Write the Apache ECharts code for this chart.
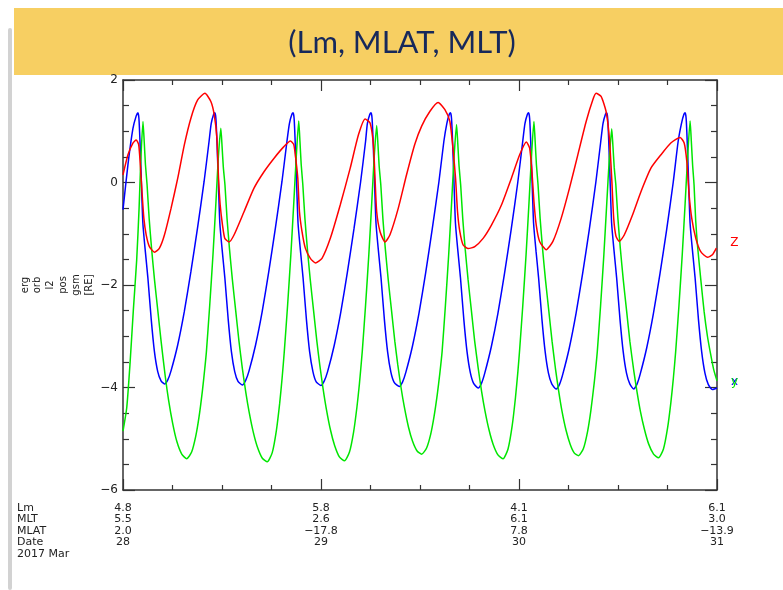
<!DOCTYPE html>
<html><head><meta charset="utf-8">
<script src="https://cdn.jsdelivr.net/npm/echarts@6/dist/echarts.min.js"></script>
<style>html,body{margin:0;padding:0;background:#fff;}#c{width:783px;height:590px;}</style>
</head><body><div id="c"></div>
<script>
// time axis: hours since 2017-03-28 00:00
const dayTicks = [0, 24, 48, 72];
const lmLabels = ['4.8', '5.8', '4.1', '6.1'];
const mltLabels = ['5.5', '2.6', '6.1', '3.0'];
const mlatLabels = ['2.0', '\u221217.8', '7.8', '\u221213.9'];
const dateLabels = ['28', '29', '30', '31'];
const rowNames = ['Lm', 'MLT', 'MLAT', 'Date', '2017 Mar'];
const yTickLabels = {'2': '2', '0': '0', '-2': '\u22122', '-4': '\u22124', '-6': '\u22126'};

// X component (blue) [hour, Re]
const xGsm = [[0,-0.53],[0.6,0.35],[1.2,1.05],[1.6,1.3],
[1.81,1.36],[1.93,1.25],[2.06,0.8],[2.21,0.1],[2.41,-0.8],[2.71,-1.35],[3.01,-1.85],[3.41,-2.65],[3.81,-3.3],[4.21,-3.69],[4.61,-3.87],[5.03,-3.93],
[5.43,-3.85],[5.83,-3.67],[6.63,-3.17],[7.43,-2.52],[8.23,-1.74],[9.03,-0.89],[9.83,0.02],[10.43,0.8],[10.69,1.15],[10.99,1.33],
[11.14,1.36],[11.26,1.25],[11.39,0.8],[11.54,0.1],[11.74,-0.8],[12.04,-1.35],[12.34,-1.85],[12.74,-2.65],[13.14,-3.3],[13.54,-3.69],[13.94,-3.88],[14.47,-3.95],
[14.87,-3.86],[15.27,-3.68],[16.07,-3.17],[16.87,-2.52],[17.67,-1.74],[18.47,-0.89],[19.27,0.02],[19.87,0.8],[20.17,1.15],[20.47,1.33],
[20.62,1.36],[20.74,1.25],[20.87,0.8],[21.02,0.1],[21.22,-0.8],[21.52,-1.35],[21.82,-1.85],[22.22,-2.65],[22.62,-3.3],[23.02,-3.69],[23.42,-3.89],[24.0,-3.96],
[24.4,-3.87],[24.8,-3.69],[25.6,-3.18],[26.4,-2.53],[27.2,-1.75],[28.0,-0.9],[28.8,0.01],[29.4,0.8],[29.62,1.15],[29.92,1.33],
[30.07,1.36],[30.19,1.25],[30.32,0.8],[30.47,0.1],[30.67,-0.8],[30.97,-1.35],[31.27,-1.85],[31.67,-2.65],[32.07,-3.3],[32.47,-3.7],[32.87,-3.9],[33.49,-3.98],
[33.89,-3.89],[34.29,-3.7],[35.09,-3.19],[35.89,-2.54],[36.69,-1.76],[37.49,-0.9],[38.29,0.01],[38.89,0.8],[39.25,1.15],[39.55,1.33],
[39.70,1.36],[39.82,1.25],[39.95,0.8],[40.10,0.1],[40.30,-0.8],[40.60,-1.35],[40.90,-1.85],[41.30,-2.65],[41.70,-3.3],[42.10,-3.71],[42.50,-3.92],[43.05,-4.01],
[43.45,-3.92],[43.85,-3.72],[44.65,-3.2],[45.45,-2.55],[46.25,-1.77],[47.05,-0.92],[47.85,0.0],[48.45,0.8],[48.72,1.15],[49.02,1.33],
[49.17,1.36],[49.29,1.25],[49.42,0.8],[49.57,0.1],[49.77,-0.8],[50.07,-1.35],[50.37,-1.85],[50.77,-2.65],[51.17,-3.3],[51.57,-3.72],[51.97,-3.93],[52.51,-4.03],
[52.91,-3.94],[53.31,-3.74],[54.11,-3.22],[54.91,-2.56],[55.71,-1.78],[56.51,-0.93],[57.31,0.0],[57.91,0.8],[58.18,1.15],[58.48,1.33],
[58.63,1.36],[58.75,1.25],[58.88,0.8],[59.03,0.1],[59.23,-0.8],[59.53,-1.35],[59.83,-1.85],[60.23,-2.65],[60.63,-3.3],[61.03,-3.72],[61.43,-3.93],[61.89,-4.03],
[62.29,-3.94],[62.69,-3.74],[63.49,-3.22],[64.29,-2.56],[65.09,-1.78],[65.89,-0.93],[66.69,0.0],[67.29,0.8],[67.69,1.15],[67.99,1.33],
[68.14,1.36],[68.26,1.25],[68.39,0.8],[68.54,0.1],[68.74,-0.8],[69.04,-1.35],[69.34,-1.85],[69.74,-2.65],[70.14,-3.3],[70.54,-3.72],[70.94,-3.94],[71.44,-4.04],[72.0,-4.01]];

// Y component (green)
const yGsm = [[0,-4.85],[0.45,-4.4],[0.85,-3.54],[1.25,-2.5],[1.66,-1.51],[1.95,-0.5],[2.15,0.4],
[2.42,1.19],[2.57,0.8],[2.72,0.35],[2.92,-0.05],[3.17,-0.7],[3.47,-1.3],[3.82,-1.9],[4.22,-2.5],[4.62,-3.1],
[5.12,-3.78],[5.52,-4.24],[6.02,-4.70],[6.52,-5.05],[7.12,-5.30],[7.72,-5.39],[8.32,-5.26],[8.82,-4.95],[9.22,-4.57],[9.62,-4.07],[9.92,-3.62],[10.11,-3.3],[10.51,-2.4],[10.91,-1.4],[11.26,-0.4],[11.56,0.5],
[11.86,1.06],[12.01,0.7],[12.16,0.3],[12.36,-0.05],[12.61,-0.7],[12.91,-1.3],[13.26,-1.9],[13.66,-2.5],[14.06,-3.1],
[14.47,-3.63],[14.89,-4.10],[15.29,-4.48],[15.79,-4.87],[16.29,-5.16],[16.89,-5.38],[17.49,-5.45],[18.09,-5.27],[18.59,-4.84],[18.99,-4.31],[19.29,-3.81],[19.55,-3.3],[19.95,-2.4],[20.35,-1.4],[20.7,-0.4],[21.0,0.5],
[21.3,1.2],[21.45,0.8],[21.6,0.35],[21.8,-0.05],[22.05,-0.7],[22.35,-1.3],[22.7,-1.9],[23.1,-2.5],[23.5,-3.1],
[23.85,-3.56],[24.25,-4.02],[24.65,-4.42],[25.15,-4.83],[25.65,-5.13],[26.25,-5.36],[26.85,-5.43],[27.45,-5.26],[27.95,-4.87],[28.35,-4.39],[28.65,-3.94],[29.0,-3.3],[29.4,-2.4],[29.8,-1.4],[30.15,-0.4],[30.45,0.5],
[30.75,1.11],[30.9,0.75],[31.05,0.32],[31.25,-0.05],[31.5,-0.7],[31.8,-1.3],[32.15,-1.9],[32.55,-2.5],[32.95,-3.1],
[33.3,-3.55],[33.7,-4.0],[34.1,-4.38],[34.6,-4.77],[35.1,-5.05],[35.65,-5.24],[36.2,-5.30],[36.8,-5.18],[37.3,-4.91],[37.7,-4.57],[38.1,-4.13],[38.4,-3.73],[38.68,-3.3],[39.08,-2.4],[39.48,-1.4],[39.83,-0.4],[40.13,0.5],
[40.43,1.13],[40.58,0.76],[40.73,0.33],[40.93,-0.05],[41.18,-0.7],[41.48,-1.3],[41.83,-1.9],[42.23,-2.5],[42.63,-3.1],
[43.07,-3.64],[43.47,-4.08],[43.87,-4.45],[44.37,-4.83],[44.87,-5.11],[45.47,-5.32],[46.07,-5.39],[46.67,-5.20],[47.17,-4.75],[47.57,-4.20],[47.87,-3.68],[48.06,-3.3],[48.46,-2.4],[48.86,-1.4],[49.21,-0.4],[49.51,0.5],
[49.81,1.19],[49.96,0.8],[50.11,0.35],[50.31,-0.05],[50.56,-0.7],[50.86,-1.3],[51.21,-1.9],[51.61,-2.5],[52.01,-3.1],
[52.41,-3.62],[52.81,-4.07],[53.21,-4.46],[53.71,-4.84],[54.21,-5.11],[54.71,-5.28],[55.21,-5.33],[55.81,-5.19],[56.31,-4.86],[56.71,-4.45],[57.11,-3.92],[57.31,-3.61],[57.49,-3.3],[57.89,-2.4],[58.29,-1.4],[58.64,-0.4],[58.94,0.45],
[59.24,1.05],[59.39,0.7],[59.54,0.3],[59.74,-0.05],[59.99,-0.7],[60.29,-1.3],[60.64,-1.9],[61.04,-2.5],[61.44,-3.1],
[61.91,-3.67],[62.31,-4.09],[62.71,-4.46],[63.21,-4.82],[63.71,-5.10],[64.31,-5.30],[64.91,-5.37],[65.51,-5.20],[66.01,-4.79],[66.41,-4.29],[66.71,-3.82],[66.99,-3.3],[67.39,-2.4],[67.79,-1.4],[68.14,-0.4],[68.44,0.5],
[68.74,1.2],[68.89,0.8],[69.04,0.35],[69.22,-0.05],[69.42,-0.75],[69.63,-1.22],[70.04,-1.9],[70.44,-2.52],[70.84,-3.0],[71.24,-3.36],[71.6,-3.65],[72.0,-3.87]];

// Z component (red)
const zGsm = [[0,0.15],[0.6,0.54],[1.2,0.77],[1.6,0.83],[1.9,0.74],[2.1,0.34],[2.3,-0.18],[2.53,-0.7],[2.81,-1.02],[3.2,-1.25],[3.82,-1.36],[4.42,-1.28],[5.03,-1.02],[5.83,-0.5],[6.63,0.08],[7.44,0.74],[8.24,1.26],[9.05,1.61],[9.93,1.74],[10.65,1.58],[11.06,1.32],[11.38,0.87],[11.58,0.08],[11.78,-0.44],[12.06,-0.83],[12.34,-1.09],[12.86,-1.16],[13.47,-1.02],[14.67,-0.57],[15.88,-0.11],[17.09,0.21],[18.29,0.47],[19.5,0.70],[20.3,0.81],[20.7,0.74],[20.98,0.41],[21.19,0.08],[21.39,-0.57],[21.7,-0.96],[22.1,-1.28],[22.71,-1.48],[23.32,-1.57],[24.12,-1.48],[25.13,-1.09],[26.33,-0.44],[27.54,0.28],[28.54,0.93],[29.35,1.24],[29.95,1.16],[30.35,0.74],[30.55,0.08],[30.75,-0.57],[31.16,-0.96],[31.76,-1.16],[32.36,-1.02],[33.37,-0.5],[34.37,0.15],[35.38,0.75],[36.2,1.1],[37.21,1.39],[38.2,1.56],[39.02,1.42],[39.62,1.19],[40.03,0.61],[40.31,0.08],[40.55,-0.57],[40.83,-0.96],[41.23,-1.22],[41.84,-1.29],[42.64,-1.25],[43.65,-1.09],[44.66,-0.83],[45.87,-0.44],[47.07,0.08],[48.08,0.54],[48.89,0.79],[49.29,0.67],[49.57,0.21],[49.81,-0.37],[50.09,-0.83],[50.5,-1.15],[51.3,-1.31],[52.11,-1.15],[53.11,-0.70],[54.12,-0.11],[55.13,0.54],[56.14,1.19],[56.94,1.61],[57.34,1.74],[57.95,1.68],[58.55,1.39],[58.95,0.87],[59.24,0.08],[59.48,-0.70],[59.76,-1.05],[60.16,-1.15],[60.77,-1.02],[61.77,-0.63],[62.78,-0.18],[63.99,0.28],[65.2,0.54],[66.4,0.77],[67.53,0.88],[68.02,0.77],[68.34,0.41],[68.62,-0.24],[68.94,-0.70],[69.43,-1.09],[70.03,-1.35],[70.84,-1.46],[71.44,-1.41],[71.92,-1.28]];

const axisColor = '#333';
const tickFont = 'DejaVu Sans';
const chart = echarts.init(document.getElementById('c'));

function baseX(pos, showLabel) {
  return {
    type: 'value', position: pos, min: 0, max: 72, interval: 24,
    axisLine: {show: true, onZero: false, lineStyle: {color: axisColor, width: 1.5}},
    axisTick: {show: true, inside: true, length: 11, lineStyle: {color: axisColor, width: 1.2}},
    minorTick: {show: true, splitNumber: 4, length: 5, lineStyle: {color: axisColor, width: 1.2}},
    splitLine: {show: false}, minorSplitLine: {show: false},
    axisLabel: {show: showLabel, margin: 12, fontSize: 11, lineHeight: 11.5, color: '#222', fontFamily: tickFont,
      formatter: function (v) { const i = dayTicks.indexOf(v); return i < 0 ? '' : [lmLabels[i], mltLabels[i], mlatLabels[i], dateLabels[i]].join('\n'); }}
  };
}
function baseY(pos, showLabel) {
  return {
    type: 'value', position: pos, min: -6, max: 2, interval: 2,
    axisLine: {show: true, onZero: false, lineStyle: {color: axisColor, width: 1.5}},
    axisTick: {show: true, inside: true, length: 12, lineStyle: {color: axisColor, width: 1.2}},
    minorTick: {show: true, splitNumber: 4, length: 6, lineStyle: {color: axisColor, width: 1.2}},
    splitLine: {show: false}, minorSplitLine: {show: false},
    axisLabel: {show: showLabel, margin: 5, fontSize: 12, color: '#222', fontFamily: tickFont,
      formatter: function (v) { return yTickLabels[String(v)] || String(v); }}
  };
}
function comp(name, data, color, label, off) {
  return {
    type: 'line', name: name, data: data, showSymbol: false, smooth: 0.2, clip: false,
    lineStyle: {color: color, width: 1.5}, itemStyle: {color: color}, z: 3,
    endLabel: {show: true, formatter: label, color: color, fontSize: 12, fontFamily: tickFont, distance: 12, offset: off}
  };
}

chart.setOption({
  animation: false,
  backgroundColor: '#fff',
  grid: {left: 123, top: 80, width: 594, height: 410, containLabel: false},
  xAxis: [baseX('bottom', true), baseX('top', false)],
  yAxis: [baseY('left', true), baseY('right', false)],
  series: [
    comp('x', xGsm, '#0000ff', 'x', [2, -6]),
    comp('y', yGsm, '#00e600', 'y', [2, 1]),
    comp('z', zGsm, '#ff0000', 'Z', [2, -5])
  ],
  graphic: [
    {type: 'rect', shape: {x: 8, y: 28, width: 4, height: 562, r: 2}, style: {fill: '#d2d2d2'}, z: -1},
    {type: 'rect', shape: {x: 14, y: 8, width: 769, height: 67}, style: {fill: '#F7CF62'}, z: -1},
    {type: 'text', x: 402, y: 43, style: {text: '(Lm, MLAT, MLT)', font: '31px Lato', fill: '#17295B', align: 'center', verticalAlign: 'middle'}},
    {type: 'text', x: 17, y: 502, style: {text: rowNames.join('\n'), font: '11px "DejaVu Sans"', lineHeight: 11.5, fill: '#222', align: 'left', verticalAlign: 'top'}},
    {type: 'text', x: 57, y: 285, rotation: Math.PI / 2, style: {text: 'erg\norb\nl2\npos\ngsm\n[RE]', font: '10px "DejaVu Sans"', lineHeight: 12.8, fill: '#222', align: 'center', verticalAlign: 'middle'}}
  ]
});
</script></body></html>
